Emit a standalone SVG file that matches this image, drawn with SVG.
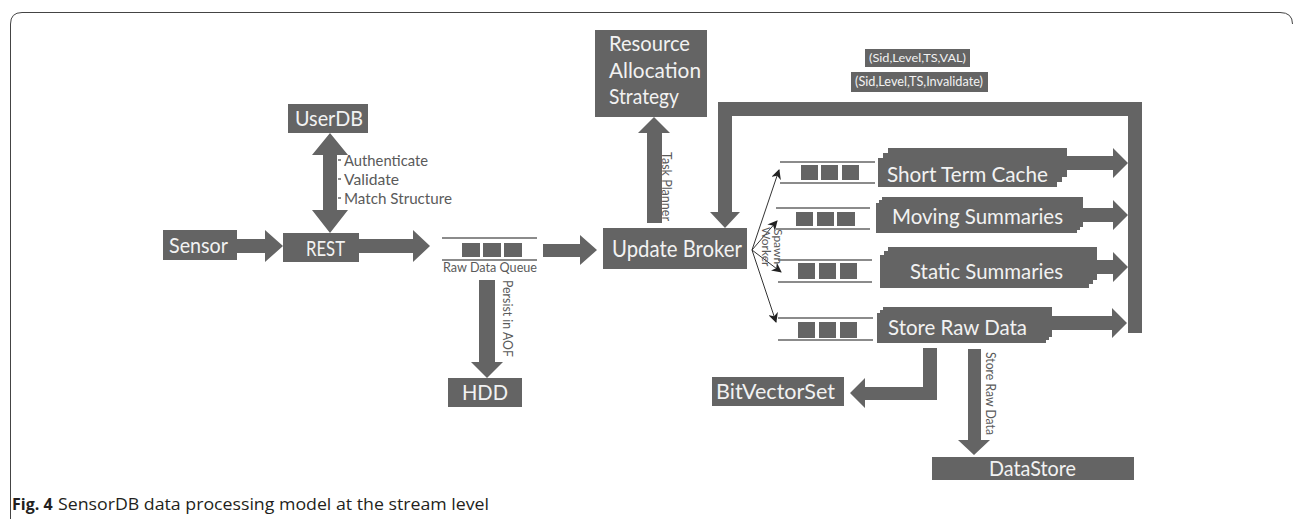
<svg xmlns="http://www.w3.org/2000/svg" width="1293" height="519" viewBox="0 0 1293 519">
<style>
.box{fill:#646464}
.arr{fill:#646464}
.bt{font-family:Lato,"Open Sans",sans-serif;fill:#f2f2f2}
.lbl{font-family:Lato,"Open Sans",sans-serif;fill:#5a5a5a}
.ql{stroke:#646464;stroke-width:1.5}
.sp{stroke:#333;stroke-width:1;fill:none}
.cap{font-family:"Open Sans","Noto Sans",sans-serif;font-size:16px;fill:#231f20}
</style>
<defs>
<marker id="ah" viewBox="0 0 10 10" refX="9" refY="5" markerWidth="10" markerHeight="10" orient="auto" markerUnits="userSpaceOnUse">
<path d="M0,0 L10,5 L0,10 L3,5 z" fill="#222"/>
</marker>
</defs>
<rect width="1293" height="519" fill="#fff"/>
<path d="M10.5,519 V24 Q10.5,12.5 22,12.5 H1280 Q1292.5,12.5 1292.5,24" fill="none" stroke="#444" stroke-width="1"/>

<g id="connectors">
<polygon class="arr" points="237,239 265,239 265,230 283,246 265,262 265,253 237,253"/>
<polygon class="arr" points="359,239 413,239 413,230 430,246 413,262 413,253 359,253"/>
<polygon class="arr" points="543,244 580,244 580,235 597,250 580,265 580,257 543,257"/>
<polygon class="arr" points="330,133 348,155 337,155 337,210 348,210 330,233 312,210 323,210 323,155 312,155"/>
<line x1="338" y1="160" x2="341" y2="160" class="ql" stroke-width="1"/>
<line x1="338" y1="179" x2="341" y2="179" class="ql" stroke-width="1"/>
<line x1="338" y1="198" x2="341" y2="198" class="ql" stroke-width="1"/>
<polygon class="arr" points="479,280 495,280 495,362 503,362 487,378 471,362 479,362"/>
<polygon class="arr" points="647,223 662,223 662,133 670,133 654,117 638,133 647,133"/>
<polygon class="arr" points="1142,333 1142,102 718,102 718,212 710,212 725,228 740,212 732,212 732,116 1128,116 1128,333"/>
<polygon class="arr" points="1060,156 1113,156 1113,148 1128,163 1113,178 1113,170 1060,170"/>
<polygon class="arr" points="1080,208 1113,208 1113,200 1128,215 1113,230 1113,222 1080,222"/>
<polygon class="arr" points="1092,260 1113,260 1113,252 1128,267 1113,282 1113,274 1092,274"/>
<polygon class="arr" points="1048,316 1112,316 1112,308 1127,323 1112,338 1112,330 1048,330"/>
<polygon class="arr" points="937,348 923,348 923,387 865,387 865,378 850,393 865,408 865,400 937,400"/>
<polygon class="arr" points="968,349 981,349 981,440 990,440 974,455 958,440 968,440"/>
<line class="sp" x1="752" y1="250" x2="779" y2="170" marker-end="url(#ah)"/>
<line class="sp" x1="752" y1="250" x2="777" y2="221" marker-end="url(#ah)"/>
<line class="sp" x1="752" y1="250" x2="781" y2="272" marker-end="url(#ah)"/>
<line class="sp" x1="752" y1="250" x2="776" y2="322" marker-end="url(#ah)"/>
<text class="lbl" font-size="15" x="344" y="166" textLength="84" lengthAdjust="spacingAndGlyphs">Authenticate</text>
<text class="lbl" font-size="15" x="344" y="185" textLength="55" lengthAdjust="spacingAndGlyphs">Validate</text>
<text class="lbl" font-size="15" x="344" y="204" textLength="108" lengthAdjust="spacingAndGlyphs">Match Structure</text>
<text class="lbl" font-size="14" transform="translate(503,280) rotate(90)" textLength="77" lengthAdjust="spacingAndGlyphs">Persist in AOF</text>
<text class="lbl" font-size="13" transform="translate(662,152) rotate(90)" textLength="69" lengthAdjust="spacingAndGlyphs">Task Planner</text>
<text class="lbl" font-size="12" transform="translate(774,229) rotate(90)">Spawn</text>
<text class="lbl" font-size="12" transform="translate(762,227) rotate(90)">Worker</text>
<text class="lbl" font-size="13" transform="translate(986,352) rotate(90)" textLength="83" lengthAdjust="spacingAndGlyphs">Store Raw Data</text>
</g>

<g id="sensor"><rect class="box" x="163" y="230" width="74" height="30"/><text class="bt" font-size="21" x="169" y="253" textLength="59" lengthAdjust="spacingAndGlyphs">Sensor</text></g>
<g id="rest"><rect class="box" x="283" y="233" width="76" height="29"/><text class="bt" font-size="21" x="306" y="256" textLength="39" lengthAdjust="spacingAndGlyphs">REST</text></g>
<g id="userdb"><rect class="box" x="288" y="104" width="80" height="29"/><text class="bt" font-size="21" x="295" y="126" textLength="68" lengthAdjust="spacingAndGlyphs">UserDB</text></g>

<g id="rawqueue">
<line class="ql" x1="442" y1="238" x2="537" y2="238"/><line class="ql" x1="442" y1="260" x2="537" y2="260"/>
<rect class="box" x="462" y="243" width="18" height="14"/><rect class="box" x="483" y="243" width="18" height="14"/><rect class="box" x="504" y="243" width="18" height="14"/>
<text class="lbl" font-size="13" x="443" y="272" textLength="94" lengthAdjust="spacingAndGlyphs">Raw Data Queue</text>
</g>
<g id="hdd"><rect class="box" x="448" y="378" width="74" height="29"/><text class="bt" font-size="21" x="462" y="400" textLength="46" lengthAdjust="spacingAndGlyphs">HDD</text></g>
<g id="broker"><rect class="box" x="603" y="228" width="144" height="41"/><text class="bt" font-size="23" x="612" y="257" textLength="130" lengthAdjust="spacingAndGlyphs">Update Broker</text></g>
<g id="resource"><rect class="box" x="595" y="30" width="112" height="87"/>
<text class="bt" font-size="21" x="609" y="51" textLength="81" lengthAdjust="spacingAndGlyphs">Resource</text><text class="bt" font-size="21" x="609" y="78" textLength="92" lengthAdjust="spacingAndGlyphs">Allocation</text><text class="bt" font-size="21" x="609" y="104" textLength="70" lengthAdjust="spacingAndGlyphs">Strategy</text></g>

<g id="labels">
<rect class="box" x="865" y="49" width="105" height="18"/><text class="bt" font-size="12" x="869" y="62" textLength="97" lengthAdjust="spacingAndGlyphs">(Sid,Level,TS,VAL)</text>
<rect class="box" x="851" y="72" width="137" height="20"/><text class="bt" font-size="13" x="855" y="86" textLength="128" lengthAdjust="spacingAndGlyphs">(Sid,Level,TS,Invalidate)</text>
</g>

<g id="q1">
<line class="ql" x1="780" y1="162" x2="875" y2="162"/><line class="ql" x1="780" y1="183" x2="875" y2="183"/>
<rect class="box" x="801" y="165" width="17" height="15"/><rect class="box" x="821" y="165" width="17" height="15"/><rect class="box" x="842" y="165" width="17" height="15"/>
</g>
<g id="q2">
<line class="ql" x1="776" y1="208" x2="870" y2="208"/><line class="ql" x1="776" y1="229" x2="870" y2="229"/>
<rect class="box" x="796" y="212" width="17" height="14"/><rect class="box" x="817" y="212" width="17" height="14"/><rect class="box" x="837" y="212" width="18" height="14"/>
</g>
<g id="q3">
<line class="ql" x1="778" y1="260" x2="872" y2="260"/><line class="ql" x1="778" y1="282" x2="872" y2="282"/>
<rect class="box" x="798" y="263" width="17" height="16"/><rect class="box" x="819" y="263" width="17" height="16"/><rect class="box" x="840" y="263" width="17" height="16"/>
</g>
<g id="q4">
<line class="ql" x1="778" y1="318" x2="873" y2="318"/><line class="ql" x1="778" y1="340" x2="873" y2="340"/>
<rect class="box" x="798" y="322" width="17" height="16"/><rect class="box" x="819" y="322" width="17" height="16"/><rect class="box" x="840" y="322" width="17" height="16"/>
</g>

<g id="shortterm">
<rect class="box" x="888" y="148" width="179" height="29"/><rect class="box" x="883" y="153" width="179" height="29"/><rect class="box" x="878" y="158" width="179" height="29"/>
<text class="bt" font-size="21" x="887" y="182" textLength="161" lengthAdjust="spacingAndGlyphs">Short Term Cache</text></g>
<g id="moving">
<rect class="box" x="882" y="197" width="201" height="30"/><rect class="box" x="879" y="200" width="201" height="30"/><rect class="box" x="876" y="203" width="201" height="30"/>
<text class="bt" font-size="21" x="892" y="224" textLength="171" lengthAdjust="spacingAndGlyphs">Moving Summaries</text></g>
<g id="static">
<rect class="box" x="888" y="247" width="209" height="33"/><rect class="box" x="884" y="251" width="209" height="33"/><rect class="box" x="880" y="255" width="209" height="33"/>
<text class="bt" font-size="21" x="910" y="279" textLength="153" lengthAdjust="spacingAndGlyphs">Static Summaries</text></g>
<g id="storeraw">
<rect class="box" x="883" y="307" width="169" height="30"/><rect class="box" x="880" y="310" width="169" height="30"/><rect class="box" x="877" y="313" width="169" height="30"/>
<text class="bt" font-size="21" x="888" y="335" textLength="139" lengthAdjust="spacingAndGlyphs">Store Raw Data</text></g>

<g id="bitvector"><rect class="box" x="712" y="377" width="132" height="29"/><text class="bt" font-size="21" x="716" y="399" textLength="119" lengthAdjust="spacingAndGlyphs">BitVectorSet</text></g>
<g id="datastore"><rect class="box" x="932" y="457" width="202" height="23"/><text class="bt" font-size="21" x="989" y="476" textLength="87" lengthAdjust="spacingAndGlyphs">DataStore</text></g>

<text class="cap" x="12" y="510"><tspan font-weight="bold">Fig. 4</tspan><tspan x="58" textLength="431" lengthAdjust="spacingAndGlyphs">SensorDB data processing model at the stream level</tspan></text>
</svg>
